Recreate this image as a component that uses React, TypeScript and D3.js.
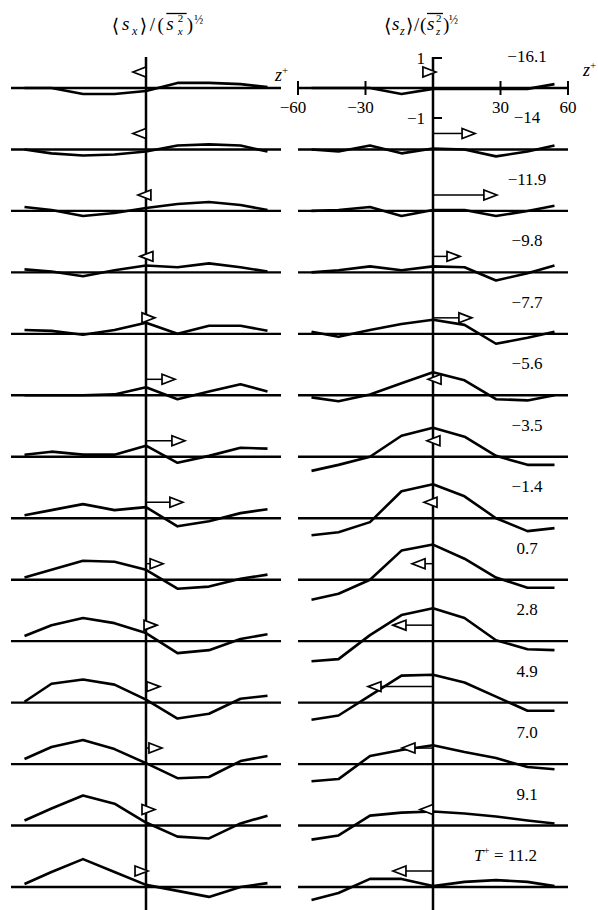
import React from 'react';
import * as d3 from 'd3';

// Row labels (T+), top to bottom
const T_LABELS = ['−16.1', '−14', '−11.9', '−9.8', '−7.7', '−5.6', '−3.5', '−1.4', '0.7', '2.8', '4.9', '7.0', '9.1', '11.2'];

// z+ positions of the sampled points
const Z_POINTS = [-54, -42, -28, -14, 0, 14, 28, 42, 54];

// <s_x>/(s_x^2)^1/2 per row
const SX_CURVES = [
  [0, 0, -0.2, -0.2, -0.1, 0.17, 0.17, 0.13, 0.03],
  [0, -0.13, -0.2, -0.17, -0.07, 0.13, 0.17, 0.13, -0.07],
  [0.13, 0.03, -0.17, -0.07, 0.1, 0.23, 0.3, 0.2, 0.03],
  [0.1, 0.03, -0.13, 0.07, 0.23, 0.17, 0.3, 0.17, 0.03],
  [0.13, 0.1, -0.03, 0.13, 0.37, 0, 0.27, 0.27, 0.1],
  [0, 0, 0, 0.03, 0.27, -0.13, 0.13, 0.37, 0.13],
  [0.07, 0.17, 0.07, 0.07, 0.37, -0.2, 0.03, 0.3, 0.27],
  [0.1, 0.27, 0.47, 0.27, 0.37, -0.27, -0.1, 0.17, 0.3],
  [0.07, 0.33, 0.63, 0.6, 0.33, -0.3, -0.23, 0.03, 0.17],
  [0.17, 0.53, 0.77, 0.6, 0.27, -0.4, -0.3, 0.07, 0.23],
  [0.03, 0.63, 0.77, 0.6, 0.1, -0.53, -0.37, 0.13, 0.23],
  [0.17, 0.57, 0.8, 0.5, 0.03, -0.47, -0.43, 0.1, 0.27],
  [0.17, 0.57, 1.0, 0.73, 0.1, -0.37, -0.43, 0.07, 0.33],
  [0.1, 0.5, 0.93, 0.5, 0.07, -0.13, -0.33, 0, 0.13],
];

// <s_z>/(s_z^2)^1/2 per row
const SZ_CURVES = [
  [0, 0, 0, -0.2, -0.03, -0.03, -0.03, -0.03, 0.13],
  [0, -0.07, 0.13, -0.13, 0.03, 0, -0.23, -0.07, 0.13],
  [0, 0.03, 0.13, -0.17, 0.03, 0.03, -0.17, 0, 0.17],
  [0, 0.07, 0.2, 0.07, 0.2, 0.17, -0.27, -0.03, 0.23],
  [0.07, -0.1, 0.13, 0.33, 0.47, 0.3, -0.33, -0.13, 0.07],
  [-0.07, -0.2, 0.03, 0.4, 0.77, 0.5, -0.13, -0.17, 0],
  [-0.47, -0.27, 0, 0.7, 0.97, 0.67, 0.03, -0.27, -0.27],
  [-0.57, -0.47, -0.13, 0.9, 1.13, 0.73, 0, -0.43, -0.33],
  [-0.67, -0.47, 0, 0.97, 1.17, 0.7, 0.07, -0.27, -0.27],
  [-0.67, -0.6, 0.2, 0.87, 1.1, 0.77, 0.03, -0.27, -0.3],
  [-0.57, -0.43, 0.23, 0.9, 0.93, 0.67, 0.2, -0.27, -0.27],
  [-0.57, -0.5, 0.27, 0.47, 0.63, 0.4, 0.2, -0.1, -0.17],
  [-0.47, -0.33, 0.33, 0.43, 0.47, 0.4, 0.3, 0.17, 0.07],
  [-0.43, -0.2, 0.27, 0.27, 0.03, 0.17, 0.23, 0.17, 0.03],
];

// arrow lengths (in z+ units) per row
const SX_ARROWS = [-5.8, -5.8, -3.6, -2.7, 4, 12.9, 17.3, 16.4, 7.6, 4.9, 6.2, 7.1, 4, 0.9];
const SZ_ARROWS = [1.3, 18.7, 28.4, 12, 17.3, -2.2, -2.7, -4, -9.3, -17.8, -28.9, -13.8, -5.8, -17.8];

const Z_TICKS = [-60, -30, 0, 30, 60];
const S_TICKS = [1, -1];

const FONT = '"Liberation Serif", "Times New Roman", serif';

function Title({ x0, k, sub }: { x0: number; k: number; sub: string }) {
  const X = (d: number) => x0 + d * k;
  return (
    <g fontFamily={FONT} fill="#000">
      <text x={X(-1)} y={32} fontSize={19} fontFamily='"DejaVu Serif", serif'>⟨</text>
      <text x={X(7)} y={30} fontSize={19} fontStyle="italic">s</text>
      <text x={X(15)} y={35} fontSize={12} fontStyle="italic">{sub}</text>
      <text x={X(21)} y={32} fontSize={19} fontFamily='"DejaVu Serif", serif'>⟩</text>
      <text x={X(29)} y={31} fontSize={19}>/</text>
      <text x={X(35)} y={31} fontSize={19}>(</text>
      <text x={X(42)} y={30} fontSize={19} fontStyle="italic">s</text>
      <text x={X(51)} y={22} fontSize={11}>2</text>
      <text x={X(51)} y={35} fontSize={11} fontStyle="italic">{sub}</text>
      <line x1={X(42)} x2={X(58)} y1={13.5} y2={13.5} stroke="#000" strokeWidth={1.3} />
      <text x={X(58)} y={31} fontSize={19}>)</text>
      <text x={X(64)} y={24} fontSize={12}>½</text>
    </g>
  );
}

export default function App() {
  const width = 598;
  const height = 910;
  const xL = d3.scaleLinear().domain([-60, 60]).range([11, 281]);
  const xR = d3.scaleLinear().domain([-60, 60]).range([298, 568]);
  const rowY = d3.scalePoint<string>().domain(T_LABELS).range([88, 887]);
  const amp = 30; // px per unit
  const headLen = 13;
  const headHalf = 5;

  const panels = [
    { x: xL, curves: SX_CURVES, arrows: SX_ARROWS },
    { x: xR, curves: SZ_CURVES, arrows: SZ_ARROWS },
  ];

  return (
    <svg
      width={width}
      height={height}
      viewBox={`0 0 ${width} ${height}`}
      style={{ position: 'absolute', left: 0, top: 0, background: '#fff' }}
    >
      <rect width={width} height={height} fill="#fff" />
      <Title x0={113} k={1.27} sub="x" />
      <Title x0={385} k={1.0} sub="z" />

      {panels.map((p, pi) => {
        const x = p.x;
        return (
          <g key={pi}>
            {/* vertical axis */}
            <line x1={x(0)} x2={x(0)} y1={57} y2={height} stroke="#000" strokeWidth={2.5} />
            {T_LABELS.map((lab, ri) => {
              const base = rowY(lab) as number;
              const y = d3.scaleLinear().domain([-1, 1]).range([base + amp, base - amp]);
              const line = d3
                .line<number>()
                .x((_, i) => x(Z_POINTS[i]))
                .y((v) => y(v));
              const a = p.arrows[ri];
              const ay = base - 16;
              const dir = a >= 0 ? 1 : -1;
              const tip = x(a);
              const baseX = tip - dir * headLen;
              const showShaft = Math.abs(tip - x(0)) > headLen;
              return (
                <g key={lab}>
                  <line x1={x(-60)} x2={x(60)} y1={base} y2={base} stroke="#000" strokeWidth={2.4} />
                  <path d={line(p.curves[ri]) || ''} fill="none" stroke="#000" strokeWidth={2.6} strokeLinejoin="round" />
                  {showShaft && (
                    <line x1={x(0)} x2={baseX} y1={ay} y2={ay} stroke="#000" strokeWidth={1.5} />
                  )}
                  <path
                    d={`M${tip},${ay} L${baseX},${ay - headHalf} L${baseX},${ay + headHalf} Z`}
                    fill="#fff"
                    stroke="#000"
                    strokeWidth={1.7}
                    strokeLinejoin="miter"
                  />
                </g>
              );
            })}
          </g>
        );
      })}

      {/* z+ axis ticks on the top row of the right panel */}
      {Z_TICKS.map((t) => (
        <g key={t}>
          <line x1={xR(t)} x2={xR(t)} y1={81} y2={95} stroke="#000" strokeWidth={2} />
          {t !== 0 && (
            <text x={xR(t) + (t > 0 ? 0 : -5)} y={113} fontSize={17} fontFamily={FONT} textAnchor="middle">
              {t < 0 ? `−${-t}` : `${t}`}
            </text>
          )}
        </g>
      ))}
      {S_TICKS.map((s) => {
        const yy = 88 - s * amp;
        return (
          <g key={s}>
            <line x1={xR(0)} x2={xR(0) + 9} y1={yy} y2={yy} stroke="#000" strokeWidth={2} />
            <text x={xR(0) - 8} y={yy + 6} fontSize={17} fontFamily={FONT} textAnchor="end">
              {s < 0 ? '−1' : '1'}
            </text>
          </g>
        );
      })}

      {/* z+ labels */}
      <text x={275} y={81} fontSize={18} fontFamily={FONT} fontStyle="italic">
        z<tspan dy={-7} fontSize={11} fontStyle="normal">+</tspan>
      </text>
      <text x={583} y={76} fontSize={18} fontFamily={FONT} fontStyle="italic">
        z<tspan dy={-7} fontSize={11} fontStyle="normal">+</tspan>
      </text>

      {/* T+ labels */}
      {T_LABELS.map((lab, ri) => {
        const base = rowY(lab) as number;
        const yy = base - 26;
        if (ri === T_LABELS.length - 1) {
          return (
            <text key={lab} x={474} y={yy} fontSize={17} fontFamily={FONT}>
              <tspan fontStyle="italic">T</tspan>
              <tspan dy={-7} fontSize={11}>+</tspan>
              <tspan dy={7}>{` = ${lab}`}</tspan>
            </text>
          );
        }
        return (
          <text key={lab} x={527} y={yy} fontSize={17} fontFamily={FONT} textAnchor="middle">
            {lab}
          </text>
        );
      })}
    </svg>
  );
}
